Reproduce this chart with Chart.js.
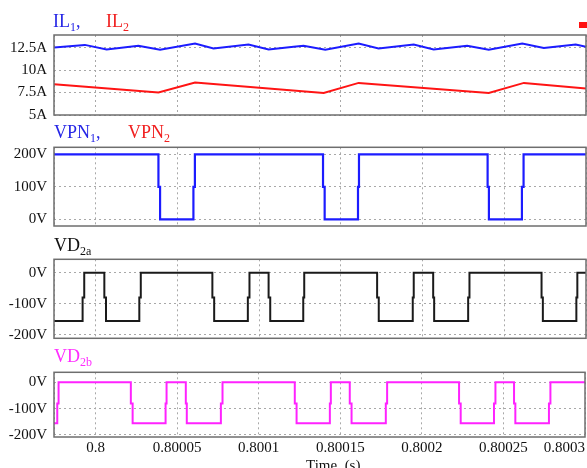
<!DOCTYPE html>
<html>
<head>
<meta charset="utf-8">
<script src="https://cdn.jsdelivr.net/npm/chart.js@4"></script>
<style>
  html, body { margin: 0; padding: 0; background: #fff; overflow: hidden; }
  #wrap { position: relative; width: 587px; height: 468px; }
  canvas { position: absolute; left: 0; top: 0; }
  .lbl { position: absolute; font-family: 'Liberation Serif', 'Times New Roman', serif; font-size: 18px; line-height: 18px; white-space: nowrap; }
  .lbl sub { font-size: 12px; vertical-align: -4px; line-height: 0; }
</style>
</head>
<body>
<div id="wrap">
  <canvas id="p1" width="587" height="468"></canvas>
  <canvas id="p2" width="587" height="468"></canvas>
  <canvas id="p3" width="587" height="468"></canvas>
  <canvas id="p4" width="587" height="468"></canvas>

  <div class="lbl" style="left:53px; top:12px; color:#2626e6">IL<sub>1</sub>,</div>
  <div class="lbl" style="left:106px; top:12px; color:#f02020">IL<sub>2</sub></div>
  <div style="position:absolute; left:579px; top:22px; width:8px; height:6px; background:#ff1010"></div>
  <div class="lbl" style="left:54px; top:123px; color:#2626e6">VPN<sub>1</sub>,</div>
  <div class="lbl" style="left:128px; top:123px; color:#f02020">VPN<sub>2</sub></div>
  <div class="lbl" style="left:54px; top:236px; color:#111">VD<sub>2a</sub></div>
  <div class="lbl" style="left:54px; top:347px; color:#ff2eff">VD<sub>2b</sub></div>
  <div class="lbl" style="left:306px; top:456px; font-size:15px; color:#111">Time&nbsp; (s)</div>
</div>

<script>
// time axis (s)
const tMin = 0.7999745;
const tMax = 0.8003;
const xTicks = [0.8, 0.80005, 0.8001, 0.80015, 0.8002, 0.80025, 0.8003];
const xTickLabels = ['0.8', '0.80005', '0.8001', '0.80015', '0.8002', '0.80025', '0.8003'];

// IL1, IL2 (A)
const il1T = [0.7999745, 0.7999934, 0.8000067, 0.8000261, 0.8000394, 0.8000608, 0.8000721, 0.8000935, 0.8001058, 0.8001211, 0.8001272,
  0.8001405, 0.8001609, 0.8001731, 0.8001946, 0.8002068, 0.8002273, 0.8002405, 0.8002610, 0.8002742, 0.8002937, 0.8003];
const il1V = [12.5, 12.8, 12.3, 12.7, 12.25, 12.95, 12.4, 12.85, 12.3, 12.6, 12.7,
  12.25, 12.95, 12.4, 12.85, 12.3, 12.7, 12.25, 12.95, 12.45, 12.85, 12.6];
const il2T = [0.7999745, 0.8000384, 0.8000608, 0.8001395, 0.8001609, 0.8002405, 0.8002620, 0.8003];
const il2V = [8.43, 7.5, 8.61, 7.46, 8.57, 7.46, 8.57, 7.94];

// VPN1 (V), each value holds from its time until the next one
const vpnT = [0.7999745, 0.8000384, 0.8000394, 0.8000598, 0.8000607, 0.8001391, 0.8001401, 0.8001605, 0.8001611,
  0.8002398, 0.8002406, 0.8002608, 0.8002618, 0.8003];
const vpnV = [200, 100, 0, 100, 200, 100, 0, 100, 200, 100, 0, 100, 200, 200];

// VD2a (V)
const vd2aT = [0.7999745, 0.7999920, 0.7999930, 0.8000053, 0.8000063, 0.8000267, 0.8000276, 0.8000714, 0.8000725,
  0.8000931, 0.8000941, 0.8001058, 0.8001068, 0.8001270, 0.8001276, 0.8001722, 0.8001732, 0.8001940, 0.8001946,
  0.8002065, 0.8002071, 0.8002279, 0.8002287, 0.8002728, 0.8002736, 0.8002941, 0.8002947, 0.8003];
const vd2aV = [-155, -80, 0, -80, -155, -80, 0, -80, -155, -80, 0, -80, -155, -80, 0,
  -80, -155, -80, 0, -80, -155, -80, 0, -80, -155, -80, 0, 0];

// VD2b (V)
const vd2bT = [0.7999745, 0.7999765, 0.7999773, 0.8000216, 0.8000227, 0.8000429, 0.8000435, 0.8000553, 0.8000559,
  0.8000768, 0.8000778, 0.8001221, 0.8001232, 0.8001436, 0.8001442, 0.8001558, 0.8001569, 0.8001779, 0.8001787,
  0.8002228, 0.8002238, 0.8002442, 0.8002451, 0.8002565, 0.8002573, 0.8002779, 0.8002788, 0.8003];
const vd2bV = [-155, -80, 0, -80, -155, -80, 0, -80, -155, -80, 0, -80, -155, -80, 0,
  -80, -155, -80, 0, -80, -155, -80, 0, -80, -155, -80, 0, 0];

const fontFam = "'Liberation Serif', 'Times New Roman', serif";
const H = 468;

function line(t, v) {
  return t.map((x, i) => ({ x: x, y: v[i] }));
}

// box around each plot
const frame = {
  id: 'frame',
  afterDraw(chart) {
    const a = chart.chartArea;
    const ctx = chart.ctx;
    ctx.save();
    ctx.strokeStyle = '#6e6e6e';
    ctx.lineWidth = 1.5;
    ctx.strokeRect(a.left, a.top, a.right - a.left, a.bottom - a.top);
    ctx.restore();
  }
};

function panel(id, o) {
  const xh = o.showX ? 26 : 0;
  new Chart(document.getElementById(id), {
    type: 'line',
    data: { datasets: o.datasets },
    options: {
      responsive: false,
      animation: false,
      layout: { padding: { top: o.top, bottom: H - o.bottom - xh, left: 0, right: 1 } },
      plugins: { legend: { display: false }, tooltip: { enabled: false } },
      elements: { point: { radius: 0 } },
      scales: {
        x: {
          type: 'linear',
          min: tMin,
          max: tMax,
          afterBuildTicks: s => { s.ticks = [{ value: tMin }].concat(xTicks.map(v => ({ value: v }))); },
          afterFit: s => { s.height = xh; },
          grid: { color: '#a8a8a8', lineWidth: 1, drawTicks: false },
          border: { display: false, dash: [2, 3] },
          ticks: {
            display: !!o.showX,
            align: 'inner',
            autoSkip: false,
            maxRotation: 0,
            padding: 2,
            color: '#111',
            font: { family: fontFam, size: 15 },
            callback: (v, i) => i === 0 ? '' : xTickLabels[i - 1]
          }
        },
        y: {
          min: o.yMin,
          max: o.yMax,
          afterBuildTicks: s => { s.ticks = o.yTicks.map(v => ({ value: v })); },
          afterFit: s => { s.width = 54; },
          grid: { color: '#a8a8a8', lineWidth: 1, drawTicks: false },
          border: { display: false, dash: [2, 3] },
          ticks: {
            padding: 7,
            color: '#111',
            font: { family: fontFam, size: 15 },
            callback: (v, i) => o.yLabels[i]
          }
        }
      }
    },
    plugins: [frame]
  });
}

panel('p1', {
  top: 35, bottom: 115, yMin: 5, yMax: 13.9,
  yTicks: [5, 7.5, 10, 12.5], yLabels: ['5A', '7.5A', '10A', '12.5A'],
  datasets: [
    { label: 'IL1', data: line(il1T, il1V), borderColor: '#1c1cff', borderWidth: 2 },
    { label: 'IL2', data: line(il2T, il2V), borderColor: '#ff1414', borderWidth: 2 }
  ]
});

// stepped 'before': value of a point holds until the next point
panel('p2', {
  top: 147.3, bottom: 226, yMin: -20.6, yMax: 221.5,
  yTicks: [0, 100, 200], yLabels: ['0V', '100V', '200V'],
  datasets: [
    { label: 'VPN1', data: line(vpnT, vpnV), borderColor: '#1c1cff', borderWidth: 2.2, stepped: 'before' }
  ]
});

panel('p3', {
  top: 259.3, bottom: 338.3, yMin: -210.6, yMax: 43,
  yTicks: [-200, -100, 0], yLabels: ['-200V', '-100V', '0V'],
  datasets: [
    { label: 'VD2a', data: line(vd2aT, vd2aV), borderColor: '#1a1a1a', borderWidth: 2, stepped: 'before' }
  ]
});

panel('p4', {
  top: 372.3, bottom: 437, yMin: -207.6, yMax: 38, showX: true,
  yTicks: [-200, -100, 0], yLabels: ['-200V', '-100V', '0V'],
  datasets: [
    { label: 'VD2b', data: line(vd2bT, vd2bV), borderColor: '#ff22ff', borderWidth: 2, stepped: 'before' }
  ]
});
</script>
</body>
</html>
